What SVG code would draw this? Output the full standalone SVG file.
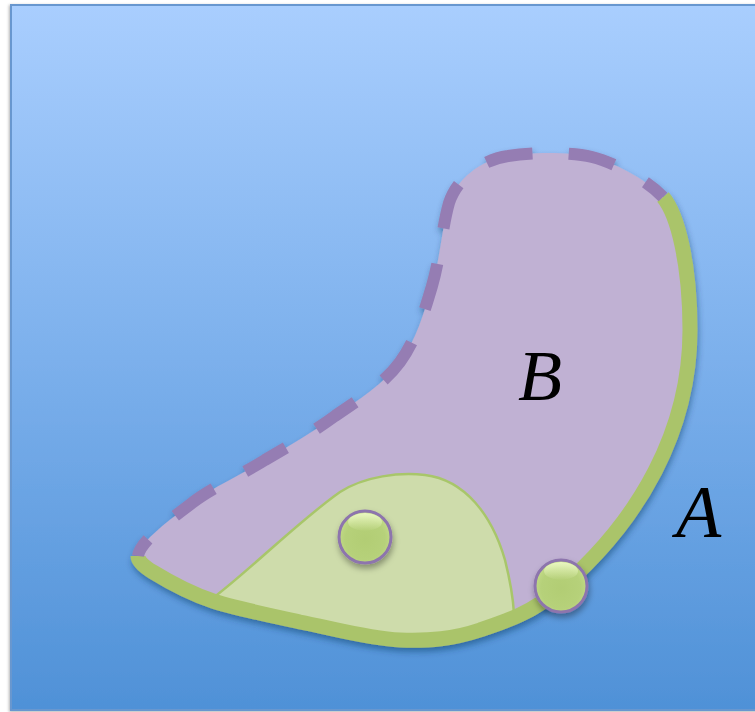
<svg xmlns="http://www.w3.org/2000/svg" width="755" height="712" viewBox="0 0 755 712">
  <defs>
    <linearGradient id="bg" x1="0" y1="0" x2="0" y2="1">
      <stop offset="0" stop-color="#a9cefe"/>
      <stop offset="0.5" stop-color="#7cb0ec"/>
      <stop offset="1" stop-color="#4f91d7"/>
    </linearGradient>
    <radialGradient id="ball" cx="0.5" cy="0.55" r="0.55">
      <stop offset="0" stop-color="#b2cd74"/>
      <stop offset="0.7" stop-color="#b6d17a"/>
      <stop offset="1" stop-color="#c4dc8a"/>
    </radialGradient>
    <linearGradient id="shine" x1="0" y1="0" x2="0" y2="1">
      <stop offset="0" stop-color="#f4ffd0" stop-opacity="0.8"/>
      <stop offset="1" stop-color="#f4ffd0" stop-opacity="0"/>
    </linearGradient>
    <filter id="bgShadow" x="-5%" y="-5%" width="110%" height="110%">
      <feDropShadow dx="-1" dy="1" stdDeviation="1.5" flood-color="#000" flood-opacity="0.3"/>
    </filter>
    <filter id="shapeShadow" x="-10%" y="-10%" width="120%" height="120%">
      <feDropShadow dx="1" dy="4" stdDeviation="3" flood-color="#10305a" flood-opacity="0.45"/>
    </filter>
    <filter id="ballShadow" x="-30%" y="-30%" width="160%" height="160%">
      <feDropShadow dx="1" dy="4" stdDeviation="3" flood-color="#000" flood-opacity="0.35"/>
    </filter>
  </defs>
  <style>
    .fillB { fill: #c0b1d3; }
    .fillA { fill: #cedcab; stroke: #a8c66a; stroke-width: 2.5; }
    .green { fill: none; stroke: #aac46a; stroke-width: 15; stroke-linecap: butt; }
    .dash { fill: none; stroke: #957db3; stroke-width: 12; stroke-dasharray: 47 36; stroke-dashoffset: 24; stroke-linecap: butt; }
    .ball { fill: url(#ball); stroke: #8d74ad; stroke-width: 3; }
    .shine { fill: url(#shine); }
    .lbl { font-family: "Liberation Serif", "Times New Roman", serif; font-style: italic; fill: #000; }
  </style>

  <g id="background">
    <rect x="11" y="5" width="760" height="705" fill="url(#bg)" stroke="#6797cf" stroke-width="2" filter="url(#bgShadow)"/>
  </g>

  <g id="shape" filter="url(#shapeShadow)">
    <path id="region-B" class="fillB" d="M138,556 C140,541 171,519 192,503 C213,487 241,475 265,460 C289,446 313,432 335,416 C358,400 384,384 400,362 C416,340 424,313 432,286 C440,259 442,228 449,203 C456,180 480,160 508,156 C532,152 570,152 592,157 C612,162 645,178 663,197 C678,215 690,265 690,330 C690,430 640,520 561,588 C532,613 507,621 480,630 C453,639 430,641 400,640 C370,639 331,628 300,622 C269,615 238,609 213,601 C189,593 166,580 153,572 C143,566 138,561 138,556 Z"/>
    <path id="region-A-inner" class="fillA" d="M213,598 C250,570 300,520 340,492 C365,476 400,472 425,475 C465,480 492,515 505,560 C510,580 513,595 514,614 C500,622 490,627 480,630 C453,639 430,641 400,640 C370,639 331,628 300,622 C269,615 238,609 213,601 Z"/>
    <path id="boundary-A" class="green" d="M663,197 C678,215 690,265 690,330 C690,430 640,520 561,588 C532,613 507,621 480,630 C453,639 430,641 400,640 C370,639 331,628 300,622 C269,615 238,609 213,601 C189,593 166,580 153,572 C143,566 138,561 138,556"/>
    <path id="boundary-dashed" class="dash" d="M663,197 C645,178 612,162 592,157 C570,152 532,152 508,156 C480,160 456,180 449,203 C442,228 440,259 432,286 C424,313 416,340 400,362 C384,384 358,400 335,416 C313,432 289,446 265,460 C241,475 213,487 192,503 C171,519 140,541 138,556"/>
  </g>

  <g id="point-1" filter="url(#ballShadow)">
    <circle class="ball" cx="365" cy="537" r="26"/>
    <ellipse class="shine" cx="365" cy="522" rx="17" ry="9"/>
  </g>
  <g id="point-2" filter="url(#ballShadow)">
    <circle class="ball" cx="561" cy="586" r="26"/>
    <ellipse class="shine" cx="561" cy="571" rx="17" ry="9"/>
  </g>

  <g id="label-B"><text class="lbl" x="518" y="400" font-size="72">B</text></g>
  <g id="label-A"><text class="lbl" x="676" y="537" font-size="74">A</text></g>
</svg>
